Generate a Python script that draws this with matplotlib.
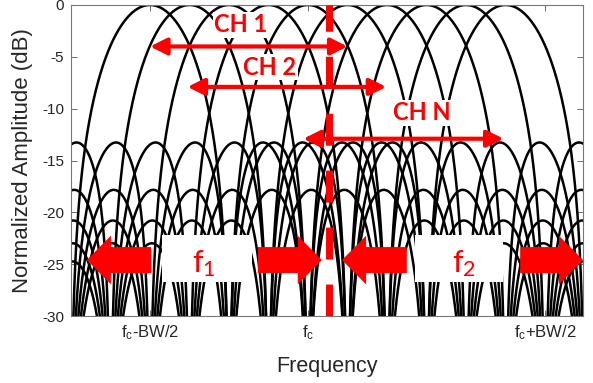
import numpy as np
import matplotlib.pyplot as plt
from matplotlib.patches import FancyArrow, Rectangle

# channel centres (units of sub-carrier spacing) and null-to-peak half width
centers = [0, 1, 2, 3, 4, 5, 6, 7, 8, 9]
half_width = 2.0

xticks = [0, 4, 10]
xticklabels = [r'$\mathregular{f_c}$-BW/2', r'$\mathregular{f_c}$', r'$\mathregular{f_c}$+BW/2']
yticks = [0, -5, -10, -15, -20, -25, -30]
yticklabels = ['0', '-5', '-10', '-15', '-20', '-25', '-30']

# channel span arrows: (label, start, end, level)
channels = [('CH 1', 0.0, 5.0, -4.0), ('CH 2', 0.95, 5.98, -7.9), ('CH N', 3.88, 8.95, -12.9)]
center_line = 4.54

plt.rcParams['font.family'] = ['Liberation Sans', 'DejaVu Sans']

fig = plt.figure(figsize=(5.93, 3.83), dpi=100)
ax = fig.add_axes([71 / 593, 67 / 383, 512 / 593, 311 / 383])

x = np.linspace(-2.5, 11.5, 8001)
for c in centers:
    y = 20 * np.log10(np.abs(np.sinc((x - c) / half_width)) + 1e-12)
    ax.plot(x, y, color='black', lw=1.8, zorder=2)

ax.set_xlim(-2.0, 10.96)
ax.set_ylim(-30, 0)
ax.set_xticks(xticks)
ax.set_xticklabels(xticklabels)
ax.set_yticks(yticks)
ax.set_yticklabels(yticklabels)
ax.tick_params(direction='in', top=True, right=True, length=4, width=0.6,
               color='#555555', labelcolor='#262626', labelsize=11, pad=5)
ax.tick_params(axis='x', labelsize=12)
for s in ax.spines.values():
    s.set_color('#777777')
    s.set_linewidth(0.8)

ax.set_xlabel('Frequency', fontsize=15.5, color='#262626')
ax.set_ylabel('Normalized Amplitude (dB)', fontsize=16, color='#262626')
ax.xaxis.set_label_coords(0.5, -0.13)
ax.yaxis.set_label_coords(-0.074, 0.5)

# red dashed centre line
ax.axvline(center_line, color='red', lw=5, dashes=(4.6, 3.6), zorder=5)

# channel spans
for name, x0, x1, lev in channels:
    ax.annotate('', xy=(x1, lev), xytext=(x0, lev),
                arrowprops=dict(arrowstyle='<|-|>,head_length=1.0,head_width=0.5',
                                color='red', lw=3, shrinkA=0, shrinkB=0), zorder=6)
ax.text(2.3, -1.9, 'CH 1', color='red', fontsize=17, fontweight='bold', family='Lato',
        ha='center', va='center', zorder=6,
        bbox=dict(fc='white', ec='none', pad=1))
ax.text(3.04, -6.0, 'CH 2', color='red', fontsize=17, fontweight='bold', family='Lato',
        ha='center', va='center', zorder=6,
        bbox=dict(fc='white', ec='none', pad=1))
ax.text(6.89, -10.4, 'CH N', color='red', fontsize=17, fontweight='bold', family='Lato',
        ha='center', va='center', zorder=6,
        bbox=dict(fc='white', ec='none', pad=1))

# f1 / f2 boxes and block arrows
ax.add_patch(Rectangle((0.3, -26.7), 2.28, 4.5, fc='white', ec='none', zorder=3))
ax.add_patch(Rectangle((6.71, -26.7), 2.23, 4.5, fc='white', ec='none', zorder=3))
ax.text(1.37, -24.9, r'$\mathregular{f_1}$', color='red', fontsize=22, family='Lato',
        ha='center', va='center', zorder=6)
ax.text(7.95, -24.9, r'$\mathregular{f_2}$', color='red', fontsize=22, family='Lato',
        ha='center', va='center', zorder=6)

for tail, tip in [(0.03, -1.6), (2.73, 4.35), (6.5, 4.86), (9.37, 10.96)]:
    ax.add_patch(FancyArrow(tail, -24.6, tip - tail, 0, width=2.5, head_width=4.7,
                            head_length=0.61, length_includes_head=True,
                            color='red', lw=0, zorder=6, clip_on=False))

fig.savefig('out.png', dpi=100)
